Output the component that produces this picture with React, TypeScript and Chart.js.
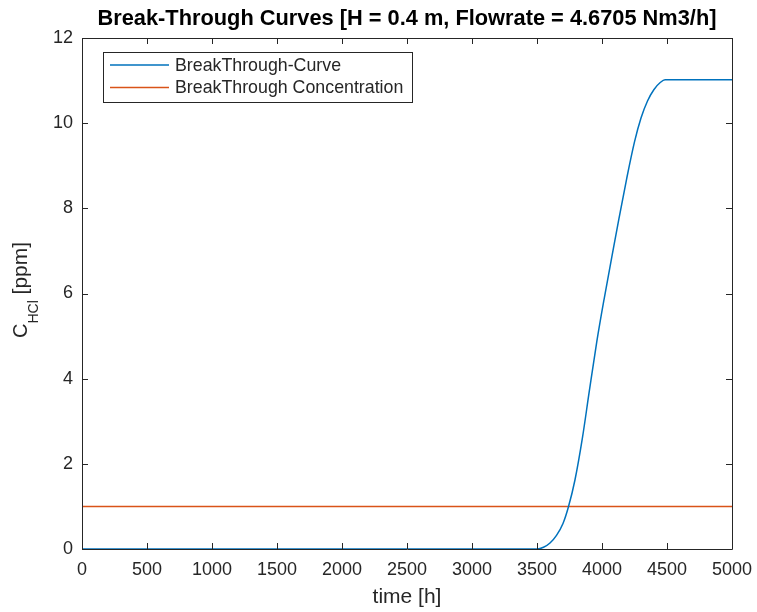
import React, { useEffect, useRef } from "react";
import { Chart, registerables } from "chart.js";

Chart.register(...registerables);

const titleText = "Break-Through Curves [H = 0.4 m, Flowrate = 4.6705 Nm3/h]";
const xLabel = "time [h]";
const seriesNames = ["BreakThrough-Curve", "BreakThrough Concentration"];

// Break-through curve samples
const timeH = [0, 3500, 3550, 3600, 3650, 3700, 3741, 3792, 3850, 3902, 3960, 4018, 4087, 4130, 4190, 4250, 4300, 4350, 4400, 4450, 4485, 5000];
const concPpm = [0, 0, 0.04, 0.14, 0.32, 0.6, 0.98, 1.62, 2.62, 3.7, 4.87, 5.9, 7.05, 7.75, 8.7, 9.56, 10.12, 10.52, 10.79, 10.96, 11.02, 11.02];

// Break-through concentration threshold
const thresholdTime = [0, 5000];
const thresholdPpm = [1, 1];

const xMin = 0, xMax = 5000, xStep = 500;
const yMin = 0, yMax = 12, yStep = 2;

const BLUE = "#0072BD";
const ORANGE = "#D95319";
const AXIS = "#262626";
const FONT = "'Liberation Sans', Arial, Helvetica, sans-serif";

const framePlugin = {
  id: "matlabFrame",
  afterDraw(chart: any) {
    const ctx = chart.ctx as CanvasRenderingContext2D;
    const { left, right, top, bottom } = chart.chartArea;
    const xs = chart.scales.x;
    const ys = chart.scales.y;
    ctx.save();
    // box
    ctx.strokeStyle = AXIS;
    ctx.lineWidth = 1;
    ctx.beginPath();
    ctx.rect(Math.round(left) + 0.5, Math.round(top) + 0.5, Math.round(right - left), Math.round(bottom - top));
    ctx.stroke();
    const tl = 6;
    ctx.beginPath();
    xs.ticks.forEach((t: any) => {
      const px = Math.round(xs.getPixelForValue(t.value)) + 0.5;
      ctx.moveTo(px, bottom);
      ctx.lineTo(px, bottom - tl);
      ctx.moveTo(px, top);
      ctx.lineTo(px, top + tl);
    });
    ys.ticks.forEach((t: any) => {
      const py = Math.round(ys.getPixelForValue(t.value)) + 0.5;
      ctx.moveTo(left, py);
      ctx.lineTo(left + tl, py);
      ctx.moveTo(right, py);
      ctx.lineTo(right - tl, py);
    });
    ctx.stroke();

    // title
    ctx.fillStyle = "#000";
    ctx.font = `bold 21.8px ${FONT}`;
    ctx.textAlign = "center";
    ctx.textBaseline = "middle";
    ctx.fillText(titleText, (left + right) / 2, 19);

    // x label
    ctx.fillStyle = AXIS;
    ctx.font = `21px ${FONT}`;
    ctx.fillText(xLabel, (left + right) / 2, 597);

    // y label: C_{HCl} [ppm]
    ctx.save();
    ctx.translate(27, 338);
    ctx.rotate(-Math.PI / 2);
    ctx.textAlign = "left";
    ctx.textBaseline = "alphabetic";
    ctx.font = `20px ${FONT}`;
    ctx.fillText("C", 0, 0);
    let x = ctx.measureText("C").width;
    ctx.font = `14px ${FONT}`;
    ctx.fillText("HCl", x, 11);
    x += ctx.measureText("HCl").width;
    ctx.font = `21px ${FONT}`;
    ctx.fillText(" [ppm]", x, 0);
    ctx.restore();

    // legend
    const lx = 103, ly = 52, lw = 309, lh = 50;
    ctx.fillStyle = "#fff";
    ctx.fillRect(lx, ly, lw, lh);
    ctx.strokeStyle = AXIS;
    ctx.lineWidth = 1;
    ctx.strokeRect(lx + 0.5, ly + 0.5, lw, lh);
    const colors = [BLUE, ORANGE];
    const rows = [65, 87.5];
    ctx.font = `17.8px ${FONT}`;
    ctx.textAlign = "left";
    ctx.textBaseline = "middle";
    seriesNames.forEach((name, i) => {
      ctx.strokeStyle = colors[i];
      ctx.lineWidth = 1.5;
      ctx.beginPath();
      ctx.moveTo(110, rows[i]);
      ctx.lineTo(169, rows[i]);
      ctx.stroke();
      ctx.fillStyle = AXIS;
      ctx.fillText(name, 175, rows[i] + 1);
    });
    ctx.restore();
  },
};

export default function App() {
  const ref = useRef<HTMLCanvasElement | null>(null);
  useEffect(() => {
    document.body.style.margin = "0";
    const canvas = ref.current!;
    const chart = new Chart(canvas, {
      type: "scatter",
      data: {
        datasets: [
          {
            label: seriesNames[0],
            data: timeH.map((t, i) => ({ x: t, y: concPpm[i] })),
            showLine: true,
            borderColor: BLUE,
            backgroundColor: BLUE,
            borderWidth: 1.5,
            pointRadius: 0,
            cubicInterpolationMode: "monotone",
          },
          {
            label: seriesNames[1],
            data: thresholdTime.map((t, i) => ({ x: t, y: thresholdPpm[i] })),
            showLine: true,
            borderColor: ORANGE,
            backgroundColor: ORANGE,
            borderWidth: 1.5,
            pointRadius: 0,
          },
        ],
      },
      options: {
        responsive: false,
        animation: false,
        layout: { padding: { top: 38, right: 25, bottom: 0, left: 0 } },
        plugins: { legend: { display: false }, tooltip: { enabled: false }, title: { display: false } },
        scales: {
          x: {
            type: "linear",
            min: xMin,
            max: xMax,
            grid: { display: false, drawTicks: false },
            border: { display: false },
            ticks: { stepSize: xStep, color: AXIS, font: { family: FONT, size: 18 }, padding: 10, maxRotation: 0, autoSkip: false, callback: (v: any) => String(v) },
            afterFit: (s: any) => { s.height = 63; s.paddingLeft = 0; s.paddingRight = 0; },
          },
          y: {
            type: "linear",
            min: yMin,
            max: yMax,
            grid: { display: false, drawTicks: false },
            border: { display: false },
            ticks: { stepSize: yStep, color: AXIS, font: { family: FONT, size: 18 }, padding: 9, callback: (v: any) => String(v) },
            afterFit: (s: any) => { s.width = 82; s.paddingTop = 0; s.paddingBottom = 0; },
          },
        },
      } as any,
      plugins: [framePlugin],
    });
    return () => chart.destroy();
  }, []);
  return <canvas ref={ref} width={757} height={612} style={{ display: "block" }} />;
}
